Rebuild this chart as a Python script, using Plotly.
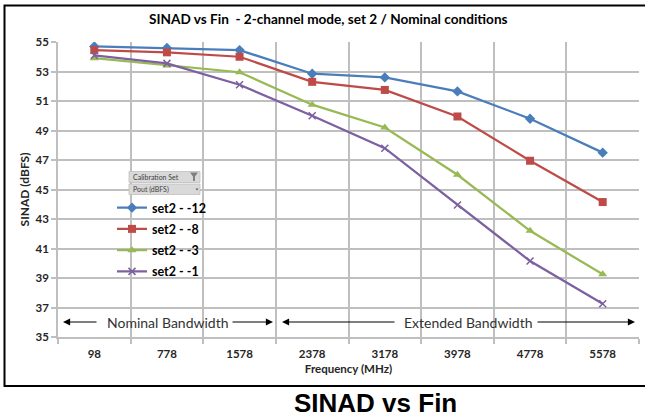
import plotly.graph_objects as go

# ---- data ----
freq_labels = ["98", "778", "1578", "2378", "3178", "3978", "4778", "5578"]
set2_m12 = [54.7, 54.6, 54.45, 52.85, 52.6, 51.65, 49.8, 47.5]
set2_m8 = [54.45, 54.3, 54.0, 52.3, 51.75, 49.95, 46.95, 44.15]
set2_m3 = [53.9, 53.4, 52.95, 50.75, 49.2, 46.0, 42.2, 39.25]
set2_m1 = [54.1, 53.55, 52.1, 50.0, 47.8, 43.95, 40.15, 37.25]
series_names = ["set2 - -12", "set2 - -8", "set2 - -3", "set2 - -1"]
y_ticks = list(range(35, 56, 2))

W, H = 645, 419
L, R, T, B = 58, 6, 42, 82
PW, PH = W - L - R, H - T - B


def px_x(px):
    return (px - L) / PW


def px_y(py):
    return (H - B - py) / PH


FONT = "Lato"
colors = ["#4A7EBB", "#BE4B48", "#98B954", "#7D60A0"]
symbols = ["diamond", "square", "triangle-up", "x-thin"]
msizes = [8, 8, 8, 7]
series = [set2_m12, set2_m8, set2_m3, set2_m1]

fig = go.Figure()
for i, (name, vals) in enumerate(zip(series_names, series)):
    fig.add_trace(go.Scatter(
        x=freq_labels, y=vals, name=name, mode="lines+markers",
        legendgroup=name,
        line=dict(color=colors[i], width=2.25),
        marker=dict(symbol=symbols[i], size=msizes[i], color=colors[i],
                    line=dict(color=colors[i], width=1.5 if symbols[i] == "x-thin" else 0)),
    ))

grid = "#BFBFBF"
fig.update_layout(
    width=W, height=H,
    margin=dict(l=L, r=R, t=T, b=B, pad=0),
    paper_bgcolor="white", plot_bgcolor="white",
    font=dict(family=FONT, color="#262626"),
    showlegend=True,
    legend=dict(x=px_x(112), y=px_y(193), xanchor="left", yanchor="top",
                bgcolor="rgba(0,0,0,0)", itemwidth=30, tracegroupgap=2,
                font=dict(family=FONT, size=12.5, color="#000000", weight="bold")),
    xaxis=dict(type="category", range=[-0.5, 7.5], tickson="boundaries",
               showgrid=True, gridcolor=grid, gridwidth=1.5,
               showline=True, linecolor=grid, linewidth=1.5,
               ticks="outside", ticklen=5, tickcolor=grid, tickwidth=1.5,
               tickfont=dict(family=FONT, size=11.5, color="#262626", weight="bold"),
               ticklabelstandoff=5,
               title=dict(text="Frequency (MHz)", standoff=6,
                          font=dict(family=FONT, size=11.5, color="#262626", weight="bold"))),
    yaxis=dict(range=[35, 55], tickvals=y_ticks,
               showgrid=True, gridcolor=grid, gridwidth=1.5,
               showline=True, linecolor=grid, linewidth=1.5, zeroline=False,
               ticks="outside", ticklen=5, tickcolor=grid, tickwidth=1.5,
               tickfont=dict(family=FONT, size=11.5, color="#262626", weight="bold"),
               title=dict(text="SINAD (dBFS)", standoff=3,
                          font=dict(family=FONT, size=12, color="#262626", weight="bold"))),
)

shapes = []
annotations = []
# outer frame
shapes.append(dict(type="rect", xref="paper", yref="paper",
                   x0=px_x(4.5), x1=px_x(700), y0=px_y(386), y1=px_y(5.5),
                   line=dict(color="#000000", width=2), layer="above"))
# title
annotations.append(dict(text="SINAD vs Fin  - 2-channel mode, set 2 / Nominal conditions",
                        xref="paper", yref="paper", x=px_x(328), y=px_y(19),
                        xanchor="center", yanchor="middle", showarrow=False,
                        font=dict(family=FONT, size=13.6, color="#000000", weight="bold")))
# caption
annotations.append(dict(text="SINAD vs Fin", xref="paper", yref="paper",
                        x=px_x(375), y=px_y(403), xanchor="center", yanchor="middle",
                        showarrow=False,
                        font=dict(family="Liberation Sans", size=26, color="#000000", weight="bold")))

# bandwidth arrows
ay_px = 322
arrows = [(98, 63), (231, 273), (396, 282), (536, 635)]
for tail, tip in arrows:
    annotations.append(dict(text="", xref="paper", yref="paper", axref="pixel", ayref="pixel",
                            x=px_x(tip), y=px_y(ay_px), ax=tail - tip, ay=0,
                            showarrow=True, arrowhead=2, arrowsize=1.3, arrowwidth=1.1,
                            arrowcolor="#000000"))
for txt, cx in [("Nominal Bandwidth", 168), ("Extended Bandwidth", 468)]:
    annotations.append(dict(text=txt, xref="paper", yref="paper", x=px_x(cx), y=px_y(ay_px),
                            xanchor="center", yanchor="middle", showarrow=False,
                            font=dict(family=FONT, size=14, color="#333333")))

# legend header (pivot field buttons)
shapes.append(dict(type="rect", xref="paper", yref="paper",
                   x0=px_x(129), x1=px_x(200), y0=px_y(182.5), y1=px_y(171.5),
                   fillcolor="#D9D9D9", line=dict(color="#BFBFBF", width=0.8), layer="above"))
shapes.append(dict(type="rect", xref="paper", yref="paper",
                   x0=px_x(129), x1=px_x(200), y0=px_y(194.5), y1=px_y(184),
                   fillcolor="#D9D9D9", line=dict(color="#BFBFBF", width=0.8), layer="above"))
# funnel icon
shapes.append(dict(type="path", xref="paper", yref="paper",
                   path=f"M {px_x(190)} {px_y(172.5)} L {px_x(198)} {px_y(172.5)} L {px_x(195)} {px_y(176.5)} "
                        f"L {px_x(195)} {px_y(181)} L {px_x(193)} {px_y(181)} L {px_x(193)} {px_y(176.5)} Z",
                   fillcolor="#7F7F7F", line=dict(width=0), layer="above"))
shapes.append(dict(type="path", xref="paper", yref="paper",
                   path=f"M {px_x(195.5)} {px_y(188.5)} L {px_x(198.5)} {px_y(188.5)} L {px_x(197)} {px_y(190.5)} Z",
                   fillcolor="#595959", line=dict(width=0), layer="above"))
annotations.append(dict(text="Calibration Set", xref="paper", yref="paper",
                        x=px_x(131), y=px_y(177), xanchor="left", yanchor="middle", showarrow=False,
                        font=dict(family=FONT, size=7, color="#404040")))
annotations.append(dict(text="Pout (dBFS)", xref="paper", yref="paper",
                        x=px_x(131), y=px_y(189.3), xanchor="left", yanchor="middle", showarrow=False,
                        font=dict(family=FONT, size=7, color="#404040")))

fig.update_layout(shapes=shapes, annotations=annotations)
fig.write_html("out.html", config={"displayModeBar": False},
               post_script="document.body.style.margin='0';document.body.style.overflow='hidden';")
